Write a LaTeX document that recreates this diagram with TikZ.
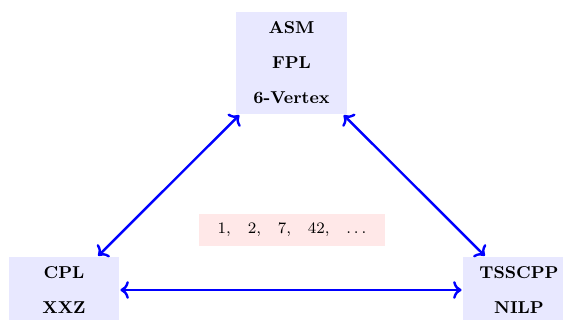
\documentclass[tikz,border=0pt]{standalone}
\usetikzlibrary{arrows.meta}
\definecolor{boxblue}{RGB}{232,232,255}
\definecolor{boxpink}{RGB}{255,232,232}
\newcommand{\seqgap}{\hskip 7pt}
\begin{document}
\begin{tikzpicture}[x=1pt,y=1pt,
  objbox/.style={fill=boxblue, align=center, font=\fontsize{8.6}{10}\selectfont\bfseries, inner sep=0pt, minimum width=55.5pt},
  seqbox/.style={fill=boxpink, font=\footnotesize, inner sep=0pt, minimum width=93pt, minimum height=16pt},
  link/.style={<->, blue, very thick, shorten <=0.5pt, shorten >=0.5pt}]
\useasboundingbox (0,0) rectangle (281.5,160);
\node[objbox, minimum height=51pt] (top) at (145.75,128.5) {ASM\\[7.5pt]FPL\\[7.5pt]6-Vertex};
\node[objbox, minimum height=33pt, minimum width=55pt] (left) at (32,15) {CPL\\[7.5pt]XXZ};
\node[objbox, minimum height=33pt, minimum width=56pt] (right) at (259.5,15) {TSSCPP\\[7.5pt]NILP};
\node[seqbox] (seq) at (146,45) {$1,\seqgap 2,\seqgap 7,\seqgap 42,\seqgap \ldots$};
\draw[link] (top) -- (left);
\draw[link] (top) -- (right);
\draw[link] (left) -- (right);
\end{tikzpicture}
\end{document}
